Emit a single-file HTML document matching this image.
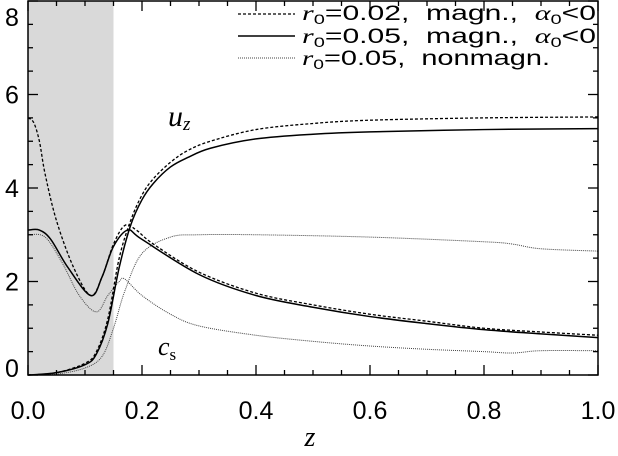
<!DOCTYPE html>
<html><head><meta charset="utf-8"><style>
body{margin:0;background:#fff}
svg{display:block;font-family:"Liberation Sans",sans-serif}
text{white-space:pre}
</style></head><body>
<svg id="c" width="618" height="456" viewBox="0 0 618 456">
<rect x="28" y="1" width="85.5" height="374" fill="#d9d9d9"/>
<g id="marks"></g>
<rect x="28" y="1" width="570" height="374" fill="none" stroke="#000" stroke-width="1.5"/>
<g id="ticks"></g>
<text x="310" y="446" font-size="28" font-style="italic" font-family="Liberation Serif,serif" text-anchor="middle">z</text>
<text x="168" y="126" font-size="30" font-style="italic" font-family="Liberation Serif,serif">u<tspan font-size="19" dy="4">z</tspan></text>
<text x="158" y="355" font-size="26" font-style="italic" font-family="Liberation Serif,serif">c<tspan font-size="17" font-style="normal" dy="5">s</tspan></text>
<g font-size="21" font-family="Liberation Sans,sans-serif">
<g><line x1="238" y1="14" x2="295" y2="14" stroke="#000" stroke-width="1.3" stroke-dasharray="3,2"/><text x="302" y="20" textLength="294" lengthAdjust="spacingAndGlyphs"><tspan font-style="italic" font-family="Liberation Serif,serif">r</tspan><tspan font-size="14" dy="4">0</tspan><tspan dy="-4">=0.02,  magn.,  </tspan><tspan font-style="italic" font-family="Liberation Serif,serif">α</tspan><tspan font-size="14" dy="4">0</tspan><tspan dy="-4">&lt;0</tspan></text></g>
<g><line x1="238" y1="36" x2="295" y2="36" stroke="#000" stroke-width="1.5"/><text x="302" y="43" textLength="294" lengthAdjust="spacingAndGlyphs"><tspan font-style="italic" font-family="Liberation Serif,serif">r</tspan><tspan font-size="14" dy="4">0</tspan><tspan dy="-4">=0.05,  magn.,  </tspan><tspan font-style="italic" font-family="Liberation Serif,serif">α</tspan><tspan font-size="14" dy="4">0</tspan><tspan dy="-4">&lt;0</tspan></text></g>
<g><line x1="238" y1="58" x2="295" y2="58" stroke="#444" stroke-width="1" stroke-dasharray="1,1"/><text x="302" y="65" textLength="248" lengthAdjust="spacingAndGlyphs"><tspan font-style="italic" font-family="Liberation Serif,serif">r</tspan><tspan font-size="14" dy="4">0</tspan><tspan dy="-4">=0.05,  nonmagn.</tspan></text></g>
</g>
</svg>
<script>
const csDashedZ=[0,0.01,0.02,0.03,0.05,0.08,0.11,0.13,0.15,0.17,0.19,0.22,0.3,0.4,0.5,0.6,0.7,0.8,0.9,1.0];
const csDashedV=[5.5,5.4,5.0,4.3,3.3,2.3,1.7,2.1,2.8,3.2,3.1,2.8,2.2,1.75,1.5,1.3,1.15,1.0,0.92,0.85];
const csSolidZ=[0,0.02,0.04,0.07,0.11,0.13,0.15,0.175,0.2,0.3,0.4,0.5,0.6,0.7,0.8,0.9,1.0];
const csSolidV=[3.1,3.1,2.9,2.3,1.7,2.1,2.75,3.1,2.9,2.15,1.7,1.45,1.25,1.1,0.97,0.88,0.8];
const csDotZ=[0,0.03,0.06,0.09,0.12,0.14,0.16,0.17,0.2,0.25,0.3,0.4,0.5,0.6,0.7,0.8,0.85,0.9,1.0];
const csDotV=[3.0,2.95,2.4,1.7,1.35,1.7,2.0,2.05,1.7,1.3,1.05,0.85,0.72,0.62,0.55,0.5,0.47,0.52,0.52];
const uzDashedZ=[0,0.05,0.1,0.12,0.14,0.16,0.18,0.2,0.22,0.25,0.28,0.32,0.4,0.5,0.6,0.8,1.0];
const uzDashedV=[0,0.05,0.25,0.5,1.2,2.5,3.3,3.85,4.2,4.55,4.8,5.0,5.25,5.38,5.45,5.5,5.52];
const uzSolidZ=[0,0.05,0.1,0.12,0.14,0.16,0.18,0.2,0.22,0.25,0.28,0.32,0.4,0.5,0.6,0.8,1.0];
const uzSolidV=[0,0.05,0.22,0.45,1.1,2.3,3.2,3.75,4.1,4.45,4.65,4.85,5.05,5.15,5.2,5.25,5.27];
const uzDotZ=[0,0.05,0.1,0.13,0.15,0.17,0.2,0.25,0.3,0.4,0.6,0.8,0.85,0.9,1.0];
const uzDotV=[0,0.02,0.15,0.4,1.0,1.8,2.6,2.95,3.0,3.0,2.95,2.85,2.8,2.7,2.65];
const xTicks=["0.0","0.2","0.4","0.6","0.8","1.0"];
const yTicks=["0","2","4","6","8"];
const NS="http://www.w3.org/2000/svg";
const X=v=>28+570*v, Y=v=>375-46.75*v;
function path(zs,vs){const p=zs.map((z,i)=>[X(z),Y(vs[i])]);let d="M"+p[0];
for(let i=0;i<p.length-1;i++){const a=p[i-1]||p[i],b=p[i],c=p[i+1],e=p[i+2]||c;
d+=" C"+(b[0]+(c[0]-a[0])/6)+","+(b[1]+(c[1]-a[1])/6)+" "+(c[0]-(e[0]-b[0])/6)+","+(c[1]-(e[1]-b[1])/6)+" "+c;}return d;}
const marks=document.getElementById('marks');
function add(zs,vs,name,st,w,dash){const el=document.createElementNS(NS,'path');
el.setAttribute('d',path(zs,vs));el.setAttribute('fill','none');el.setAttribute('stroke',st);el.setAttribute('stroke-width',w);if(dash)el.setAttribute('stroke-dasharray',dash);


marks.appendChild(el);}
add(csDotZ,csDotV,'cs-nonmagn-line','#444',1,'1,1');
add(uzDotZ,uzDotV,'uz-nonmagn-line','#444',1,'1,1');
add(csSolidZ,csSolidV,'cs-r005-line','#000',1.5);
add(uzSolidZ,uzSolidV,'uz-r005-line','#000',1.5);
add(csDashedZ,csDashedV,'cs-r002-line','#000',1.3,'3,2');
add(uzDashedZ,uzDashedV,'uz-r002-line','#000',1.3,'3,2');
const tk=document.getElementById('ticks');
function ln(x1,y1,x2,y2){const l=document.createElementNS(NS,'line');l.setAttribute('x1',x1);l.setAttribute('y1',y1);l.setAttribute('x2',x2);l.setAttribute('y2',y2);l.setAttribute('stroke','#000');l.setAttribute('stroke-width',1.3);


tk.appendChild(l);}
for(let i=0;i<=20;i++){const x=X(i*0.05),L=i%4==0?10:5;ln(x,375,x,375-L);ln(x,1,x,1+L);}
for(let i=0;i<=16;i++){const y=Y(i*0.5),L=i%4==0?10:5;ln(28,y,28+L,y);ln(598,y,598-L,y);}
xTicks.forEach(t=>{const e=document.createElementNS(NS,'text');e.setAttribute('x',X(+t));e.setAttribute('y',419);e.setAttribute('font-size',25);e.setAttribute('text-anchor','middle');e.textContent=t;


tk.appendChild(e);});
yTicks.forEach(t=>{const e=document.createElementNS(NS,'text');e.setAttribute('x',12);e.setAttribute('y',Math.max(26,Math.min(Y(+t)+9,377)));e.setAttribute('font-size',25);e.setAttribute('text-anchor','middle');e.textContent=t;


tk.appendChild(e);});
</script>
</body></html>
